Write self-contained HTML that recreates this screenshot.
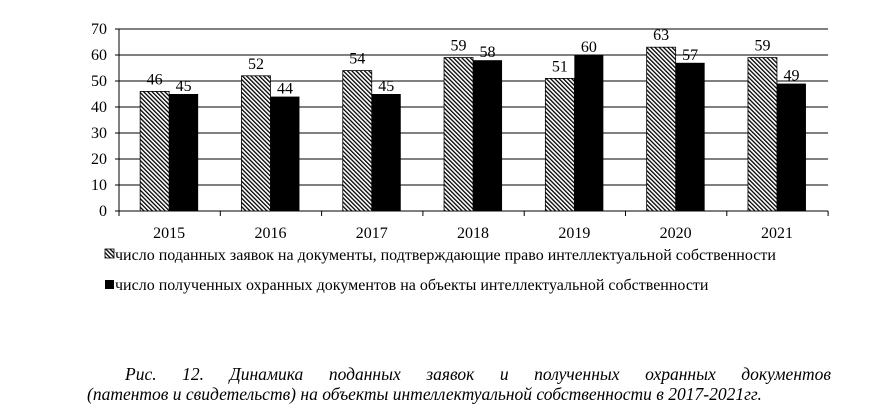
<!DOCTYPE html>
<html><head><meta charset="utf-8"><style>
body{margin:0;background:#fff;width:874px;height:414px;overflow:hidden;font-family:"Liberation Serif",serif;}
svg text{font-family:"Liberation Serif",serif;}
.cap{position:absolute;left:87px;top:364px;width:744px;font-style:italic;font-size:17.5px;line-height:20px;}
.l1{text-align:justify;text-align-last:justify;padding-left:38px;white-space:nowrap;}
.l2{white-space:nowrap;}
</style></head><body>
<svg width="874" height="414" style="position:absolute;left:0;top:0">
<defs><pattern id="h" patternUnits="userSpaceOnUse" width="3" height="3" patternTransform="rotate(-45)"><rect width="3" height="3" fill="#fff"/><rect width="1.3" height="3" fill="#000"/></pattern></defs>
<g id="g"></g>
<rect x="105" y="249" width="9" height="9" fill="url(#h)" stroke="#000" stroke-width="0.8"/>
<text x="115" y="260" font-size="16">число поданных заявок на документы, подтверждающие право интеллектуальной собственности</text>
<rect x="105" y="280" width="9" height="9" fill="#000"/>
<text x="115" y="290" font-size="16">число полученных охранных документов на объекты интеллектуальной собственности</text>
</svg>
<div class="cap"><div class="l1">Рис. 12. Динамика поданных заявок и полученных охранных документов</div><div class="l2">(патентов и свидетельств) на объекты интеллектуальной собственности в 2017-2021гг.</div></div>
<script>
const categories=["2015","2016","2017","2018","2019","2020","2021"];
const applications=[46,52,54,59,51,63,59];
const documents=[45,44,45,58,60,57,49];
const yTicks=[0,10,20,30,40,50,60,70];
const NS="http://www.w3.org/2000/svg";
const g=document.getElementById('g');
const x0=119,step=101.3,y0=211,ymax=70,yTop=29;
const y=v=>y0-(y0-yTop)*v/ymax;
function mk(t,a,p){const e=document.createElementNS(NS,t);for(const k in a)e.setAttribute(k,a[k]);(p||g).appendChild(e);return e;}
const xEnd=x0+step*categories.length;
yTicks.forEach(t=>{
 const l=mk('line',{x1:x0-4,x2:xEnd,y1:y(t),y2:y(t),stroke:'#000','stroke-width':1});
 
 
 const tx=mk('text',{x:x0-12,y:y(t)+5,'text-anchor':'end','font-size':16});
 tx.textContent=t;
 
 
});
const ax=mk('line',{x1:x0,x2:x0,y1:yTop,y2:y0,stroke:'#000'});


for(let i=0;i<=categories.length;i++){
 const t=mk('line',{x1:x0+i*step,x2:x0+i*step,y1:y0,y2:y0+5,stroke:'#000'});
 
 
}
const bw=29;
categories.forEach((c,i)=>{
 const cx=x0+step*(i+0.5)-0.5;
 const a=mk('rect',{x:cx-bw,y:y(applications[i]),width:bw,height:y0-y(applications[i]),fill:'url(#h)',stroke:'#000','stroke-width':0.8});
 
 
 const b=mk('rect',{x:cx,y:y(documents[i]),width:bw,height:y0-y(documents[i]),fill:'#000'});
 
 
 const la=mk('text',{x:cx-bw/2,y:y(applications[i])-7,'text-anchor':'middle','font-size':16});
 la.textContent=applications[i];
 
 
 const lb=mk('text',{x:cx+bw/2,y:y(documents[i])-3,'text-anchor':'middle','font-size':16});
 lb.textContent=documents[i];
 
 
 const xl=mk('text',{x:cx,y:238,'text-anchor':'middle','font-size':16});
 xl.textContent=c;
 
 
});
</script>
</body></html>
